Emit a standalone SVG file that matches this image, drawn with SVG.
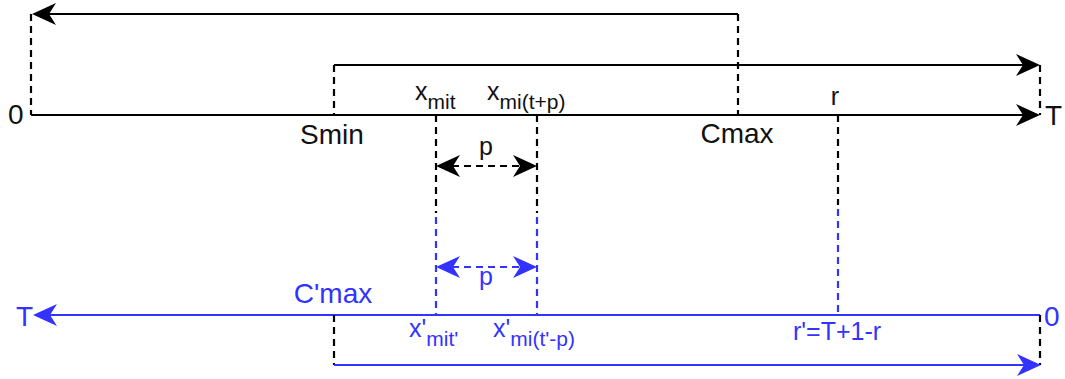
<svg xmlns="http://www.w3.org/2000/svg" width="1065" height="379" viewBox="0 0 1065 379">
<style>
text{font-family:"Liberation Sans",Arial,sans-serif;}
.k{fill:#111;}
.b{fill:#3333ff;}
.big{font-size:28px;}
.mid{font-size:25px;}
.sub{font-size:21px;}
.sk{stroke:#000;stroke-width:2.2;fill:none;}
.sb{stroke:#3333ff;stroke-width:2.2;fill:none;}
.d{stroke-dasharray:7 5;}
</style>
<defs>
<path id="ah" d="M0,0 L-24,-11 L-17,0 L-24,11 Z"/>
</defs>
<g id="connectors">
<path class="sk" d="M738,14 H48"/>
<use href="#ah" transform="translate(32,14) rotate(180)" fill="#000"/>
<path class="sk d" d="M31,14 V115"/>
<path class="sk d" d="M738,14 V115"/>
<path class="sk d" d="M334,65 V115"/>
<path class="sk" d="M334,65 H1024"/>
<use href="#ah" transform="translate(1040,65)" fill="#000"/>
<path class="sk d" d="M1040,65 V115"/>
<path class="sk" d="M31,115 H1024"/>
<use href="#ah" transform="translate(1040,115)" fill="#000"/>
<path class="sk d" d="M436,115 V213"/>
<path class="sk d" d="M537,115 V213"/>
<path class="sk d" d="M838,115 V205"/>
<path class="sb d" d="M436,217 V315"/>
<path class="sb d" d="M537,217 V315"/>
<path class="sb d" d="M838,209 V315"/>
<path class="sk d" d="M452,166 H521"/>
<use href="#ah" transform="translate(436,166) rotate(180)" fill="#000"/>
<use href="#ah" transform="translate(537,166)" fill="#000"/>
<path class="sb d" d="M452,267 H521"/>
<use href="#ah" transform="translate(436,267) rotate(180)" fill="#3333ff"/>
<use href="#ah" transform="translate(537,267)" fill="#3333ff"/>
<path class="sb" d="M1040,315 H49"/>
<use href="#ah" transform="translate(33,315) rotate(180)" fill="#3333ff"/>
<path class="sk d" d="M334,315 V365"/>
<path class="sk d" d="M1040,315 V365"/>
<path class="sb" d="M334,365 H1024"/>
<use href="#ah" transform="translate(1041,365)" fill="#3333ff"/>
</g>
<g id="label-0"><text class="k big" x="8" y="124">0</text></g>
<g id="label-T"><text class="k big" x="1045" y="125">T</text></g>
<g id="label-Smin"><text class="k big" x="332" y="144" text-anchor="middle">Smin</text></g>
<g id="label-Cmax"><text class="k big" x="737" y="143" text-anchor="middle">Cmax</text></g>
<g id="label-r"><text class="k mid" x="835" y="105" text-anchor="middle">r</text></g>
<g id="label-xmit"><text class="k mid" x="415" y="100">x<tspan class="sub" dy="9">mit</tspan></text></g>
<g id="label-xmitp"><text class="k mid" x="487" y="100">x<tspan class="sub" dy="9">mi(t+p)</tspan></text></g>
<g id="label-p"><text class="k mid" x="486" y="155" text-anchor="middle">p</text></g>
<g id="label-p2"><text class="b mid" x="486" y="285" text-anchor="middle">p</text></g>
<g id="label-Cpmax"><text class="b big" x="333" y="303" text-anchor="middle">C'max</text></g>
<g id="label-Tb"><text class="b big" x="16" y="326">T</text></g>
<g id="label-0b"><text class="b big" x="1044" y="326">0</text></g>
<g id="label-xpmit"><text class="b mid" x="409" y="337">x'<tspan class="sub" dy="9">mit'</tspan></text></g>
<g id="label-xpmitp"><text class="b mid" x="493" y="337">x'<tspan class="sub" dy="9">mi(t'-p)</tspan></text></g>
<g id="label-rp"><text class="b mid" x="837" y="340" text-anchor="middle">r'=T+1-r</text></g>
</svg>
